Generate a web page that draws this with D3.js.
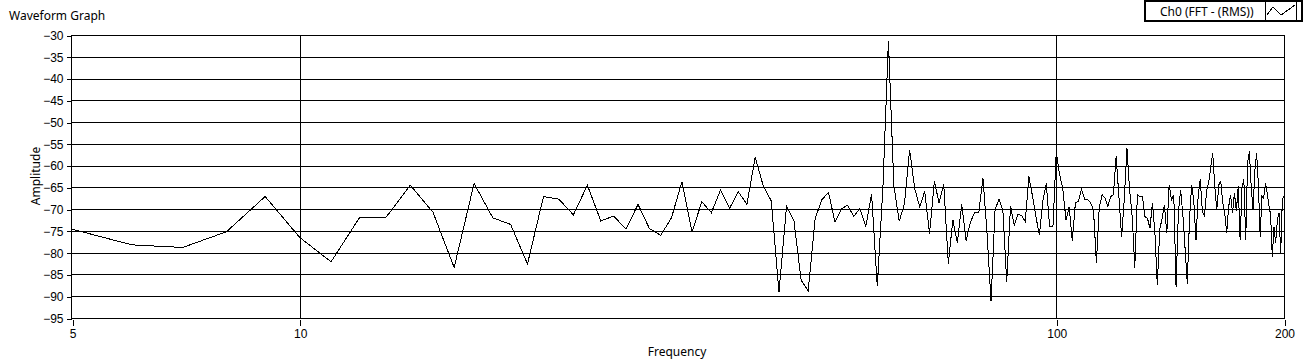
<!DOCTYPE html>
<html>
<head>
<meta charset="utf-8">
<script src="https://cdn.jsdelivr.net/npm/d3@7"></script>
<style>
  body { margin: 0; background: #fff; }
  svg { display: block; font-family: "Noto Sans", "Open Sans", sans-serif; }
  .axis text { font-size: 12px; fill: #000; }
  .axis line, .axis path { stroke: #000; shape-rendering: crispEdges; }
</style>
</head>
<body>
<script>
// FFT bins: start frequency and spacing (Hz)
const f0 = 5;
const df = 1;

// amplitude (dB) per bin
const amp5to49 = [
  -74.6, -78.2, -78.8, -75.2, -67.1, -76.5, -82.1, -71.9, -71.9, -64.5,
  -70.7, -83.4, -64.1, -72.0, -73.5, -82.6, -67.1, -67.7, -71.3, -64.5,
  -72.7, -71.6, -74.6, -68.9, -74.5, -76.0, -72.0, -63.7, -75.3, -68.3,
  -70.8, -65.6, -69.8, -66.0, -68.9, -58.1, -64.7, -68.1, -89.0, -69.4,
  -72.6, -86.3, -88.8, -72.2, -67.8
];
const amp50to99 = [
  -66.2, -73.0, -69.9, -69.1, -71.7, -69.8, -74.0, -66.5, -87.7, -65.0,
  -31.3, -64.6, -72.8, -68.8, -56.4, -65.3, -69.5, -65.9, -75.6, -63.6,
  -68.6, -64.3, -82.5, -72.4, -77.7, -68.9, -77.2, -73.0, -70.8, -70.7,
  -62.8, -75.5, -91.2, -70.2, -67.7, -70.2, -86.7, -69.2, -73.8, -71.1,
  -71.5, -72.8, -62.5, -66.9, -71.8, -75.9, -68.2, -64.1, -74.0, -74.0
];
const amp100to149 = [
  -56.9, -62.0, -65.2, -72.5, -69.5, -77.3, -68.5, -68.2, -65.4, -67.7,
  -67.8, -68.5, -70.2, -82.3, -69.4, -66.7, -67.5, -69.4, -67.1, -66.7,
  -57.8, -67.1, -76.3, -67.8, -55.9, -65.5, -71.7, -83.4, -66.7, -67.1,
  -67.1, -71.7, -72.1, -74.4, -68.6, -75.2, -87.5, -74.8, -72.1, -69.0,
  -75.5, -64.4, -67.8, -66.7, -87.8, -70.9, -65.5, -71.3, -79.0, -87.1
];
const amp150to200 = [
  -72.5, -64.4, -68.2, -77.1, -67.1, -63.2, -70.5, -71.5, -65.9, -64.0,
  -60.5, -57.1, -64.8, -70.2, -64.4, -63.6, -68.6, -70.9, -75.5, -69.4,
  -66.7, -70.9, -66.3, -70.5, -64.8, -77.1, -65.2, -63.2, -77.1, -59.4,
  -56.7, -64.8, -70.2, -61.3, -57.1, -64.4, -76.3, -67.1, -67.5, -64.0,
  -66.3, -69.0, -71.3, -80.9, -74.0, -77.8, -72.5, -70.9, -80.2, -67.8,
  -67.1
];

const xTicks = [5, 10, 100, 200];
const xGrid = [10, 100];
const yTicks = [-95, -90, -85, -80, -75, -70, -65, -60, -55, -50, -45, -40, -35, -30];

const amps = amp5to49.concat(amp50to99, amp100to149, amp150to200);
const data = amps.map((a, i) => ({ f: f0 + i * df, a: a }));

const svg = d3.select('body').append('svg')
  .attr('width', 1308)
  .attr('height', 361);

const x = d3.scaleLog().domain([5, 200]).range([72, 1284]);
const y = d3.scaleLinear().domain([-95, -30]).range([318, 35]);

const px = v => Math.round(v) + 0.5;

// title
svg.append('text')
  .attr('x', 9).attr('y', 20)
  .style('font-size', '12px')
  .text('Waveform Graph');

// grid
const grid = svg.append('g').attr('stroke', '#000').style('shape-rendering', 'crispEdges');
grid.selectAll('.hg')
  .data(yTicks)
  .enter().append('line')
  .attr('x1', 72).attr('x2', 1284)
  .attr('y1', d => px(y(d))).attr('y2', d => px(y(d)));
grid.selectAll('.vg')
  .data(xGrid)
  .enter().append('line')
  .attr('x1', d => px(x(d))).attr('x2', d => px(x(d)))
  .attr('y1', 35).attr('y2', 318);

// plot frame
svg.append('rect')
  .attr('x', 71.5).attr('y', px(y(-30)))
  .attr('width', 1284 - 71)
  .attr('height', px(y(-95)) - px(y(-30)))
  .attr('fill', 'none').attr('stroke', '#000')
  .style('shape-rendering', 'crispEdges');

// axes
svg.append('g')
  .attr('class', 'axis')
  .attr('transform', 'translate(71.5,0.5)')
  .call(d3.axisLeft(y).tickValues(yTicks).tickSize(5).tickSizeOuter(0).tickPadding(3).tickFormat(d3.format('d')))
  .call(g => g.select('.domain').remove());

svg.append('g')
  .attr('class', 'axis')
  .attr('transform', 'translate(0.5,320)')
  .call(d3.axisBottom(x).tickValues(xTicks).tickSize(6).tickSizeOuter(0).tickPadding(3).tickFormat(d3.format('d')))
  .call(g => g.select('.domain').remove());

// axis titles
svg.append('text')
  .attr('x', 677).attr('y', 356)
  .attr('text-anchor', 'middle')
  .style('font-size', '12px')
  .text('Frequency');

svg.append('text')
  .attr('transform', 'translate(40,176) rotate(-90)')
  .attr('text-anchor', 'middle')
  .style('font-size', '12px')
  .text('Amplitude');

// spectrum line
const line = d3.line()
  .x(d => x(d.f))
  .y(d => y(d.a));

svg.append('path')
  .datum(data)
  .attr('d', line)
  .attr('fill', 'none')
  .attr('stroke', '#000')
  .attr('stroke-width', 1)
  .style('shape-rendering', 'crispEdges');

// legend
const lg = svg.append('g').style('shape-rendering', 'crispEdges');
lg.append('rect')
  .attr('x', 1145).attr('y', 1)
  .attr('width', 157).attr('height', 20)
  .attr('fill', '#fff').attr('stroke', '#000').attr('stroke-width', 2);
lg.append('text')
  .attr('x', 1160).attr('y', 16)
  .style('font-size', '12px')
  .text('Ch0 (FFT - (RMS))');
lg.append('line')
  .attr('x1', 1265.5).attr('x2', 1265.5).attr('y1', 2).attr('y2', 20)
  .attr('stroke', '#000');
lg.append('line')
  .attr('x1', 1296.5).attr('x2', 1296.5).attr('y1', 2).attr('y2', 20)
  .attr('stroke', '#000');
lg.append('path')
  .attr('d', 'M1267,15 L1273,7 L1281,15 L1295,5')
  .attr('fill', 'none').attr('stroke', '#000');
</script>
</body>
</html>
